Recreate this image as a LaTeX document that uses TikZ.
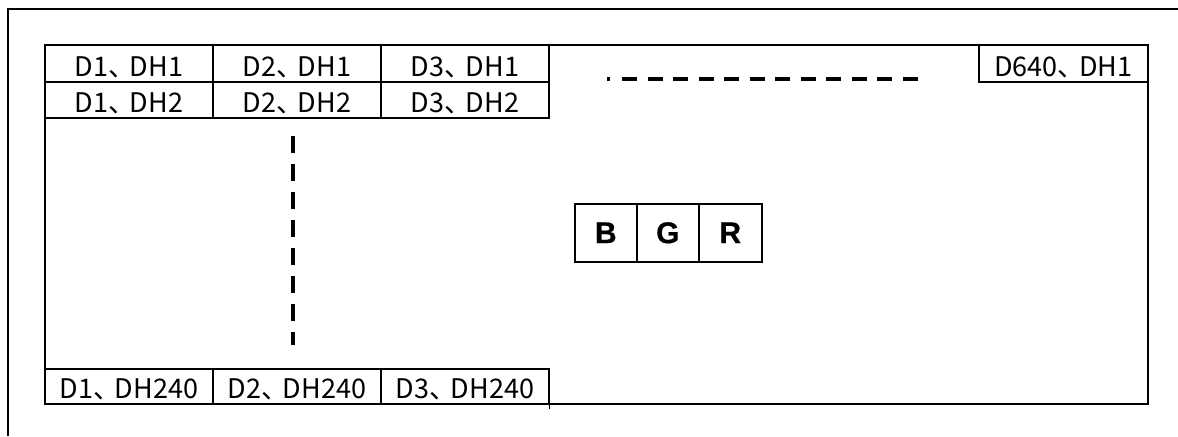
\documentclass[tikz,border=0pt]{standalone}
\usepackage{fontspec}
\newfontfamily\cjk{Noto Sans CJK JP}
\newfontfamily\bgrfont{Liberation Sans}[BoldFeatures={FakeBold=0.6}]
\newcommand{\tenc}{、\kern-0.2em}
\begin{document}
\begin{tikzpicture}[x=0.5pt,y=-0.5pt,
  frame/.style={line width=1.1pt},
  box/.style={draw, line width=0.8pt},
  cell/.style={box, anchor=north west, minimum width=84pt, inner sep=0pt,
    text depth=2.5pt, font=\cjk\fontsize{13.5}{14}\selectfont},
  rowa/.style={cell, minimum height=18.5pt, text height=16pt},
  rowb/.style={cell, minimum height=18pt, text height=15.5pt},
  rowc/.style={cell, minimum height=17.5pt, text height=15pt},
  color box/.style={box, anchor=north west, minimum width=31pt, minimum height=29pt,
    inner sep=0pt, font=\bgrfont\bfseries\fontsize{15}{15}\selectfont},
  dashline/.style={line width=1.8pt, line cap=butt}
]
\useasboundingbox (0,0) rectangle (1178,436);
% outer frame (top and left edges)
\coordinate (fbl) at (8,436);
\coordinate (ftl) at (8,9);
\coordinate (ftr) at (1178,9);
\draw[frame] (fbl) -- (ftl) -- (ftr);
% screen area
\node[box, anchor=north west, minimum width=551.5pt, minimum height=179.5pt, inner sep=0pt] (area) at (44,44) {};
% first rows
\node[rowa] (a1) at (44,44) {D1\tenc DH1};
\node[rowa] (a2) at (212,44) {D2\tenc DH1};
\node[rowa] (a3) at (380,44) {D3\tenc DH1};
\node[rowb] (b1) at (44,81) {D1\tenc DH2};
\node[rowb] (b2) at (212,81) {D2\tenc DH2};
\node[rowb] (b3) at (380,81) {D3\tenc DH2};
\node[rowa, minimum width=84.5pt] (a640) at (978,44) {D640\tenc DH1};
% last row
\node[rowc] (c1) at (44,368) {D1\tenc DH240};
\node[rowc] (c2) at (212,368) {D2\tenc DH240};
\node[rowc] (c3) at (380,368) {D3\tenc DH240};
\draw[box] (c3.south east) -- ++(0,4);
% BGR
\node[color box] (cb) at (574,203) {B};
\node[color box] (cg) at (636,203) {G};
\node[color box, minimum width=31.5pt] (cr) at (698,203) {R};
% horizontal ellipsis
\coordinate (hd0) at (606.5,79);
\coordinate (hd1) at (609.5,79);
\coordinate (hs) at (622,79);
\coordinate (he) at (917.5,79);
\draw[dashline] (hd0) -- (hd1);
\draw[dashline, dash pattern=on 7.5pt off 5.25pt] (hs) -- (he);
% vertical ellipsis
\coordinate (vs) at (293,136);
\coordinate (ve) at (293,345);
\draw[dashline, line width=2pt, dash pattern=on 8.5pt off 5.5pt] (vs) -- (ve);
\end{tikzpicture}
\end{document}
